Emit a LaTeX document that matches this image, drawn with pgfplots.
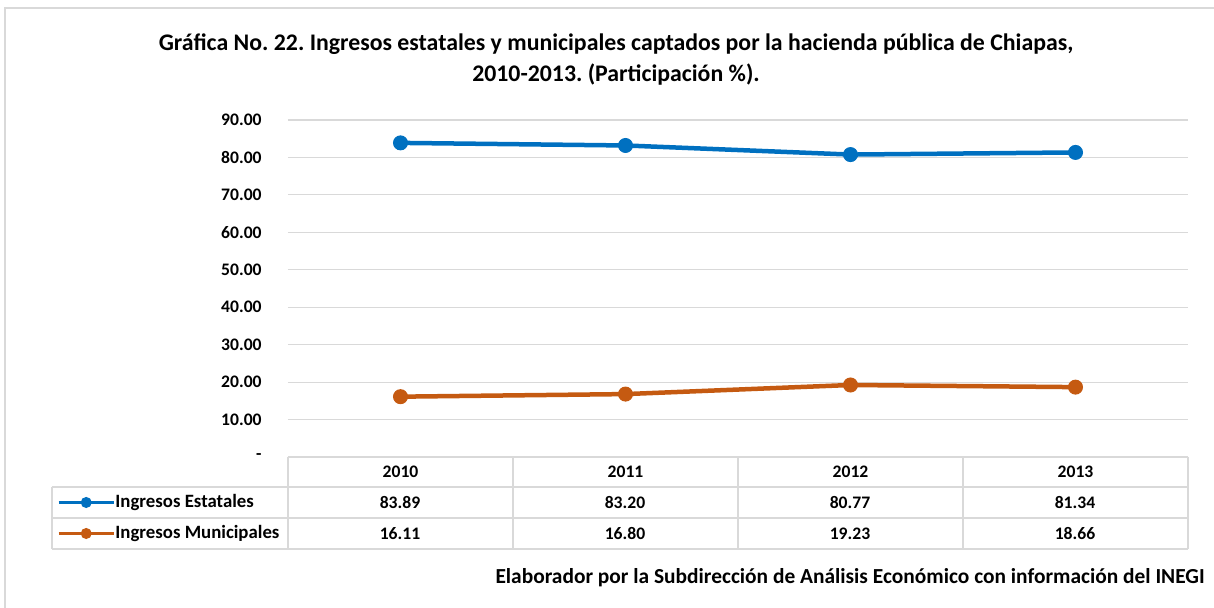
\documentclass[border=0pt]{standalone}
\usepackage{pgfplots}
\pgfplotsset{compat=1.18}
\usepackage{pgfplotstable}
\usepackage{fontspec}
\setmainfont{Carlito}
\frenchspacing

\definecolor{azul}{RGB}{0,112,192}
\definecolor{naranja}{RGB}{197,90,17}
\definecolor{rejilla}{RGB}{217,217,217}

\pgfplotstableread{
x anio est mun
0 2010 83.89 16.11
1 2011 83.20 16.80
2 2012 80.77 19.23
3 2013 81.34 18.66
}\datos

\newcommand{\tabfont}{\fontsize{8.8pt}{10pt}\selectfont\bfseries}
\newcommand{\legfont}{\fontsize{9.4pt}{10pt}\selectfont\bfseries}

\begin{document}
\begin{tikzpicture}
\begin{axis}[
    scale only axis,
    width=450pt, height=168.5pt,
    xmin=-0.5, xmax=3.5, ymin=0, ymax=90,
    xtick={0,1,2,3},
    xticklabels={2010,2011,2012,2013},
    ytick={0,10,...,90},
    yticklabels={-,10.00,20.00,30.00,40.00,50.00,60.00,70.00,80.00,90.00},
    ymajorgrids,
    grid style={rejilla, line width=0.6pt},
    axis line style={draw=none},
    tick style={draw=none},
    major tick length=0pt,
    yticklabel style={font=\tabfont, anchor=east, inner sep=0pt, xshift=-13pt},
    xticklabel style={font=\tabfont, anchor=center, inner sep=0pt, yshift=-7.5pt},
    clip=false,
    legend style={at={(-0.2567,-0.0890)}, anchor=north west, draw=none, fill=none,
        inner sep=0pt, outer sep=0pt, row sep=0pt,
        nodes={inner sep=0pt, minimum height=15.5pt, font=\legfont},
        /tikz/every even column/.append style={column sep=2pt}},
    legend cell align=left,
    legend image code/.code={\draw[line width=1.75pt, mark size=2.5pt, mark repeat=2, mark phase=2]
        plot coordinates {(0pt,0pt) (13.75pt,0pt) (27.5pt,0pt)};},
]
\addplot[azul, line width=2.25pt, mark=*, mark size=3.5pt, mark options={solid, line width=0.5pt}] table[x=x, y=est] {\datos};
\addlegendentry{Ingresos Estatales}
\addplot[naranja, line width=2.25pt, mark=*, mark size=3.5pt, mark options={solid, line width=0.5pt}] table[x=x, y=mun] {\datos};
\addlegendentry{Ingresos Municipales}
\end{axis}

\begin{scope}[x=0.5pt, y=-0.5pt, shift={(-288,-457)}]
  \path[use as bounding box] (0,0) rectangle (1214,608);
  % marco
  \draw[rejilla, line width=1pt] (5,650) -- (5,8) -- (1250,8);
  % tabla de datos
  \begin{scope}[rejilla, line width=1pt]
    \draw (288,457) -- (1188,457);
    \draw (52,487) -- (1188,487);
    \draw (52,518) -- (1188,518);
    \draw (52,549) -- (1188,549);
    \draw (52,487) -- (52,549);
    \foreach \xx in {288,513,738,963,1188} \draw (\xx,457) -- (\xx,549);
  \end{scope}
  \begin{scope}[font=\tabfont]
    \node at (400,502.5) {83.89};
    \node at (625,502.5) {83.20};
    \node at (850,502.5) {80.77};
    \node at (1075,502.5) {81.34};
    \node at (400,533.5) {16.11};
    \node at (625,533.5) {16.80};
    \node at (850,533.5) {19.23};
    \node at (1075,533.5) {18.66};
  \end{scope}
  % titulo
  \node[align=center, font=\fontsize{11.9pt}{15.5pt}\selectfont\bfseries] at (616,60)
    {Gráfica No. 22. Ingresos estatales y municipales captados por la hacienda pública de Chiapas,\\
     2010-2013. (Participación \%).};
  % fuente
  \node[anchor=east, inner sep=0pt, font=\fontsize{10.7pt}{12pt}\selectfont\bfseries] at (1205,578)
    {Elaborador por la Subdirección de Análisis Económico con información del INEGI};
\end{scope}
\end{tikzpicture}
\end{document}
